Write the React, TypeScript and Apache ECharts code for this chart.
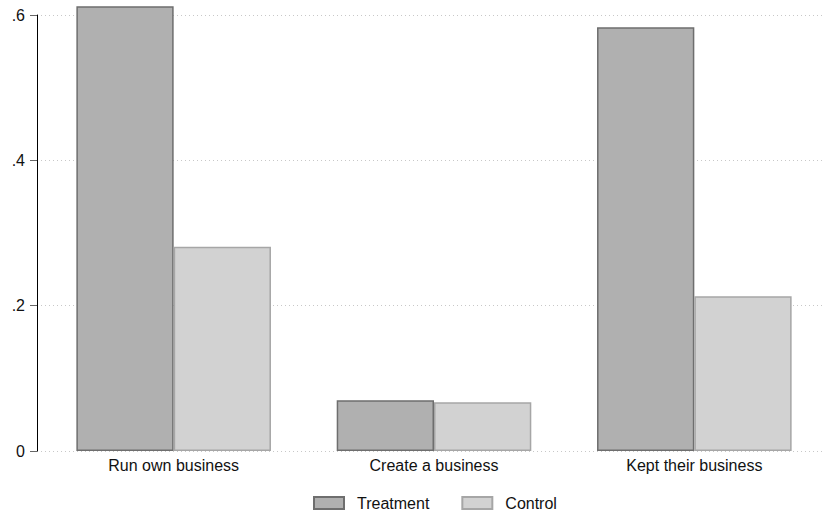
import React, { useEffect, useRef } from "react";
import * as echarts from "echarts";

const categories = ["Run own business", "Create a business", "Kept their business"];
const treatment = [0.612, 0.070, 0.583];
const control = [0.281, 0.067, 0.213];
const yTicks = [0, 0.2, 0.4, 0.6];

const FONT = "'Liberation Sans', Arial, sans-serif";

export default function App() {
  const ref = useRef<HTMLDivElement>(null);
  useEffect(() => {
    document.body.style.margin = "0";
    const chart = echarts.init(ref.current!, null, { renderer: "svg" });
    const fmt = (v: number) => {
      const s = v.toFixed(1);
      if (Math.abs(v) < 1e-9) return "0";
      return s.replace(/^0/, "");
    };
    chart.setOption({
      animation: false,
      backgroundColor: "#ffffff",
      textStyle: { fontFamily: FONT },
      grid: [
        { left: 37, right: 0, top: 15, bottom: 64, outerBoundsMode: "none" },
        { left: 43.5, width: 781, top: 15, bottom: 64, outerBoundsMode: "none" },
      ],
      xAxis: [
        { type: "category", gridIndex: 0, data: categories, show: false },
        {
          type: "category",
          gridIndex: 1,
          data: categories,
          axisLine: { show: false },
          axisTick: { show: false },
          axisLabel: { color: "#111", fontSize: 16, fontFamily: FONT, margin: 6 },
        },
      ],
      yAxis: [
        {
          type: "value",
          gridIndex: 0,
          min: yTicks[0],
          max: yTicks[yTicks.length - 1],
          interval: 0.2,
          axisLine: { show: true, lineStyle: { color: "#000", width: 1 } },
          axisTick: { show: true, inside: false, length: 7, lineStyle: { color: "#666", width: 1 } },
          axisLabel: { color: "#111", fontSize: 16, fontFamily: FONT, margin: 12, formatter: fmt },
          splitLine: { show: true, lineStyle: { color: "#c8c8c8", type: [1, 3], width: 1 } },
        },
        {
          type: "value",
          gridIndex: 1,
          min: yTicks[0],
          max: yTicks[yTicks.length - 1],
          interval: 0.2,
          show: false,
          splitLine: { show: false },
        },
      ],
      legend: {
        left: 313,
        top: 495,
        padding: 0,
        itemWidth: 30,
        itemHeight: 12,
        itemGap: 32,
        textStyle: { color: "#111", fontSize: 16, fontFamily: FONT, padding: [0, 0, 0, 8] },
        data: [
          { name: "Treatment", icon: "rect" },
          { name: "Control", icon: "rect" },
        ],
      },
      series: [
        {
          name: "Treatment",
          type: "bar",
          xAxisIndex: 1,
          yAxisIndex: 1,
          data: treatment,
          clip: false,
          barGap: "0%",
          barCategoryGap: "25.25%",
          itemStyle: { color: "#b0b0b0", borderColor: "#6e6e6e", borderWidth: 1.5 },
        },
        {
          name: "Control",
          type: "bar",
          xAxisIndex: 1,
          yAxisIndex: 1,
          data: control,
          clip: false,
          barGap: "0%",
          barCategoryGap: "25.25%",
          itemStyle: { color: "#d2d2d2", borderColor: "#a6a6a6", borderWidth: 1.5 },
        },
      ],
    });
    return () => chart.dispose();
  }, []);
  return (
    <div
      ref={ref}
      style={{ position: "fixed", left: 0, top: 0, width: 822, height: 515, background: "#fff" }}
    />
  );
}
